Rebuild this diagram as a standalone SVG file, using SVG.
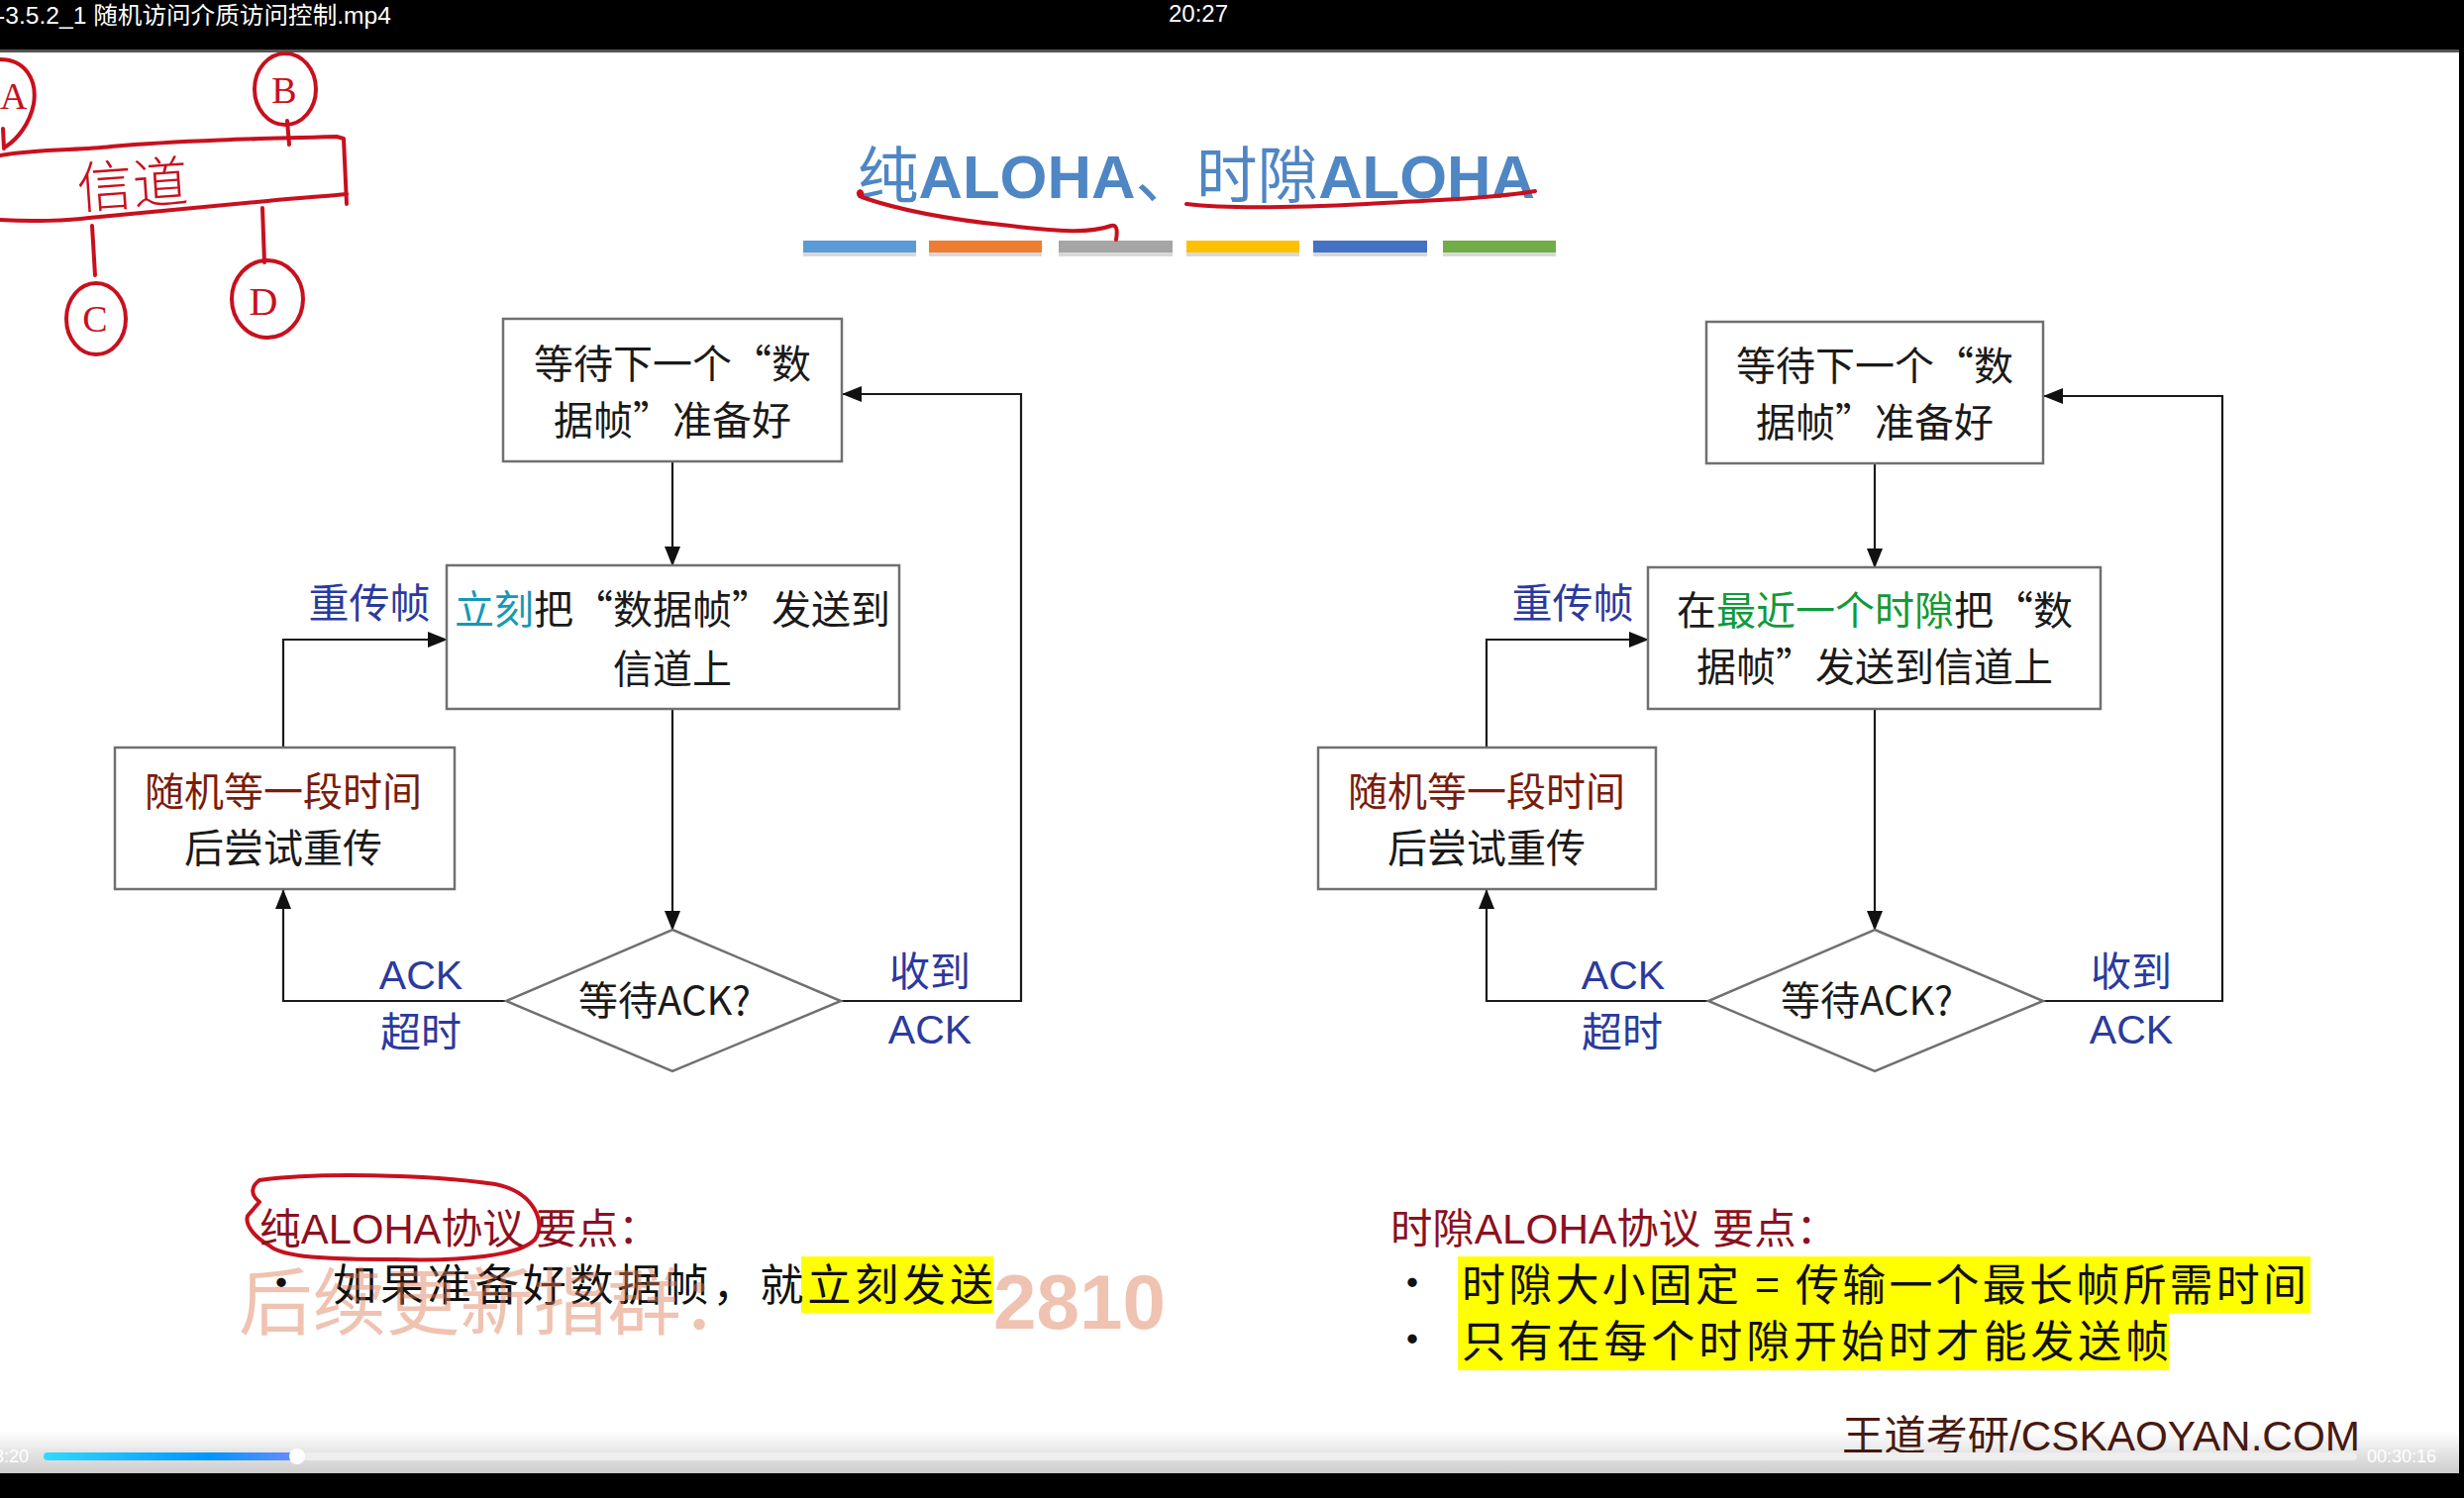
<svg xmlns="http://www.w3.org/2000/svg" width="2488" height="1513" viewBox="0 0 2488 1513">
<defs>
<style>
.box{fill:#fff;stroke:#707070;stroke-width:2.5}
.t{font-family:"Noto Sans CJK SC","Liberation Sans",sans-serif;font-size:40px;fill:#1a1a1a;text-anchor:middle}
.lbl{font-family:"Liberation Sans","Noto Sans CJK SC",sans-serif;font-size:41px;fill:#2b3a9e;text-anchor:middle}
.conn{fill:none;stroke:#1a1a1a;stroke-width:2.2}
.hand{fill:none;stroke:#c8101e;stroke-width:4;stroke-linecap:round;stroke-linejoin:round}
.htxt{font-family:"Liberation Serif","Noto Sans CJK SC",serif;fill:#c8101e}
.bt{font-family:"Noto Sans CJK SC","Liberation Sans",sans-serif;font-size:44px;fill:#111}
.hd{font-family:"Liberation Sans","Noto Sans CJK SC",sans-serif;font-size:42px;fill:#8c1020}
.red{fill:#7a1c0c}
.teal{fill:#1598b8}
.green{fill:#109a3a}
.bar{stroke:none}
</style>
<marker id="ah" markerUnits="userSpaceOnUse" markerWidth="20" markerHeight="16" refX="19" refY="8" orient="auto">
<path d="M0,0 L20,8 L0,16 z" fill="#111"/>
</marker>
<linearGradient id="prog" x1="0" x2="1" y1="0" y2="0">
<stop offset="0" stop-color="#33d8ff"/>
<stop offset="0.65" stop-color="#0096ff"/>
<stop offset="1" stop-color="#6a8cff"/>
</linearGradient>
<linearGradient id="shade" x1="0" x2="0" y1="0" y2="1">
<stop offset="0" stop-color="#000" stop-opacity="0"/>
<stop offset="1" stop-color="#000" stop-opacity="0.2"/>
</linearGradient>
</defs>

<rect x="0" y="0" width="2488" height="1513" fill="#fff"/>

<!-- top bar -->
<g id="topbar">
<rect x="0" y="0" width="2488" height="50" fill="#000"/>
<rect x="0" y="50" width="2488" height="3" fill="#555"/>
<text x="-3" y="24" font-family="Liberation Sans,Noto Sans CJK SC,sans-serif" font-size="24" fill="#fff" textLength="398" lengthAdjust="spacingAndGlyphs">-3.5.2_1 随机访问介质访问控制.mp4</text>
<text x="1210" y="22" font-family="Liberation Sans,sans-serif" font-size="24" fill="#fff" text-anchor="middle">20:27</text>
</g>
<rect x="2483" y="50" width="5" height="1463" fill="#000"/>

<!-- title -->
<g id="title">
<text x="866" y="200" font-family="Liberation Sans,Noto Sans CJK SC,sans-serif" font-size="62" fill="#4f86c4" textLength="684" lengthAdjust="spacingAndGlyphs"><tspan font-family="Noto Sans CJK SC,sans-serif">纯</tspan><tspan font-weight="bold">ALOHA</tspan><tspan font-family="Noto Sans CJK SC,sans-serif">、时隙</tspan><tspan font-weight="bold">ALOHA</tspan></text>
<g class="bar">
<rect x="811" y="246" width="114" height="13" fill="#d9d9d9"/>
<rect x="938" y="246" width="114" height="13" fill="#d9d9d9"/>
<rect x="1069" y="246" width="115" height="13" fill="#d9d9d9"/>
<rect x="1198" y="246" width="114" height="13" fill="#d9d9d9"/>
<rect x="1326" y="246" width="115" height="13" fill="#d9d9d9"/>
<rect x="1457" y="246" width="114" height="13" fill="#d9d9d9"/>
<rect x="811" y="243" width="114" height="12" fill="#5b9bd5"/>
<rect x="938" y="243" width="114" height="12" fill="#ed7d31"/>
<rect x="1069" y="243" width="115" height="12" fill="#a5a5a5"/>
<rect x="1198" y="243" width="114" height="12" fill="#ffc000"/>
<rect x="1326" y="243" width="115" height="12" fill="#4472c4"/>
<rect x="1457" y="243" width="114" height="12" fill="#70ad47"/>
</g>
</g>

<!-- handwriting annotations -->
<g id="annotations">
<path class="hand" d="M868,198 C864,193 872,190 870,199 C910,213 960,222 1020,228 C1070,234 1100,236 1122,228 C1129,226 1128,236 1127,242"/>
<path class="hand" d="M1198,206 C1240,211 1300,210 1380,206 C1450,202 1510,200 1550,193"/>
<path class="hand" d="M0,60 C25,60 38,80 34,105 C30,125 18,140 6,148"/>
<path class="hand" d="M3,130 L4,150"/>
<text class="htxt" x="0" y="110" font-size="38">A</text>
<ellipse class="hand" cx="288" cy="90" rx="31" ry="36"/>
<text class="htxt" x="287" y="104" font-size="38" text-anchor="middle">B</text>
<path class="hand" d="M290,122 L292,146"/>
<path class="hand" d="M0,157 C40,150 80,152 112,148 C180,142 260,140 340,138 L347,140 L350,206"/>
<path class="hand" d="M0,222 C30,224 70,223 90,220 C150,214 200,210 270,203 C300,200 330,198 350,196"/>
<text class="htxt" x="78" y="207" font-size="56" font-family="Noto Sans CJK SC,sans-serif" font-weight="300" fill="#c8101e" transform="rotate(-4 130 190)">信道</text>
<path class="hand" d="M93,228 L96,278"/>
<ellipse class="hand" cx="97" cy="322" rx="30" ry="36"/>
<text class="htxt" x="96" y="335" font-size="38" text-anchor="middle">C</text>
<path class="hand" d="M265,210 L267,265"/>
<ellipse class="hand" cx="270" cy="302" rx="36" ry="39"/>
<text class="htxt" x="266" y="318" font-size="40" text-anchor="middle">D</text>
<path class="hand" d="M262,1192 C320,1184 430,1186 500,1196 C540,1204 552,1236 540,1252 C524,1268 470,1274 400,1272 C330,1272 285,1270 272,1258 C258,1250 247,1238 250,1228 L262,1214 C252,1206 254,1198 262,1192"/>
</g>

<!-- connectors -->
<g id="connectors" class="conn">
<path marker-end="url(#ah)" d="M679,466 L679,571"/>
<path marker-end="url(#ah)" d="M679,716 L679,939"/>
<path marker-end="url(#ah)" d="M849,1011 L1031,1011 L1031,398 L851,398"/>
<path marker-end="url(#ah)" d="M511,1011 L286,1011 L286,899"/>
<path marker-end="url(#ah)" d="M286,755 L286,646 L451,646"/>
<path marker-end="url(#ah)" d="M1893,468 L1893,573"/>
<path marker-end="url(#ah)" d="M1893,716 L1893,939"/>
<path marker-end="url(#ah)" d="M2063,1011 L2244,1011 L2244,400 L2064,400"/>
<path marker-end="url(#ah)" d="M1725,1011 L1501,1011 L1501,899"/>
<path marker-end="url(#ah)" d="M1501,755 L1501,646 L1664,646"/>
</g>

<!-- left flowchart -->
<g id="L_wait">
<rect class="box" x="508" y="322" width="342" height="144"/>
<text class="t" x="679" y="382">等待下一个“数</text>
<text class="t" x="679" y="439">据帧”准备好</text>
</g>
<g id="L_send">
<rect class="box" x="451" y="571" width="457" height="145"/>
<text class="t" x="679" y="630"><tspan class="teal">立刻</tspan>把“数据帧”发送到</text>
<text class="t" x="679" y="690">信道上</text>
</g>
<g id="L_backoff">
<rect class="box" x="116" y="755" width="343" height="143"/>
<text class="t red" x="286" y="814">随机等一段时间</text>
<text class="t" x="286" y="871">后尝试重传</text>
</g>
<g id="L_ack">
<polygon class="box" points="679,939 849,1011 679,1082 511,1011"/>
<text class="t" x="671" y="1025">等待ACK?</text>
</g>
<g id="L_labels">
<text class="lbl" x="373" y="624">重传帧</text>
<text class="lbl" x="425" y="999">ACK</text>
<text class="lbl" x="425" y="1057">超时</text>
<text class="lbl" x="939" y="996">收到</text>
<text class="lbl" x="939" y="1054">ACK</text>
</g>

<!-- right flowchart -->
<g id="R_wait">
<rect class="box" x="1723" y="325" width="340" height="143"/>
<text class="t" x="1893" y="384">等待下一个“数</text>
<text class="t" x="1893" y="441">据帧”准备好</text>
</g>
<g id="R_send">
<rect class="box" x="1664" y="573" width="457" height="143"/>
<text class="t" x="1893" y="631">在<tspan class="green">最近一个时隙</tspan>把“数</text>
<text class="t" x="1893" y="688">据帧”发送到信道上</text>
</g>
<g id="R_backoff">
<rect class="box" x="1331" y="755" width="341" height="143"/>
<text class="t red" x="1501" y="814">随机等一段时间</text>
<text class="t" x="1501" y="871">后尝试重传</text>
</g>
<g id="R_ack">
<polygon class="box" points="1893,939 2063,1011 1893,1082 1725,1011"/>
<text class="t" x="1885" y="1025">等待ACK?</text>
</g>
<g id="R_labels">
<text class="lbl" x="1588" y="624">重传帧</text>
<text class="lbl" x="1639" y="999">ACK</text>
<text class="lbl" x="1638" y="1057">超时</text>
<text class="lbl" x="2152" y="996">收到</text>
<text class="lbl" x="2152" y="1054">ACK</text>
</g>

<!-- bottom notes -->
<g id="notes_left">
<rect x="809" y="1269" width="194" height="57" fill="#ffff00"/>
<text class="hd" x="262" y="1256" textLength="404" lengthAdjust="spacingAndGlyphs">纯ALOHA协议 要点：</text>
<text class="bt" x="262" y="1312" font-size="40">•</text>
<text class="bt" x="336" y="1314" textLength="667" lengthAdjust="spacing">如果准备好数据帧，就立刻发送</text>
</g>
<g id="watermark" opacity="0.45">
<text x="241" y="1342" font-family="Noto Sans CJK SC,sans-serif" font-size="74" fill="#e07a55" textLength="521" lengthAdjust="spacingAndGlyphs">后续更新指群：</text>
<text x="1003" y="1342" font-family="Liberation Sans,sans-serif" font-weight="bold" font-size="78" fill="#e07a55" textLength="174" lengthAdjust="spacingAndGlyphs">2810</text>
</g>
<g id="notes_right">
<rect x="1472" y="1269" width="861" height="57" fill="#ffff00"/>
<rect x="1472" y="1326" width="718" height="58" fill="#ffff00"/>
<text class="hd" x="1404" y="1256" textLength="452" lengthAdjust="spacingAndGlyphs">时隙ALOHA协议 要点：</text>
<text class="bt" x="1404" y="1312" font-size="40">•</text>
<text class="bt" x="1404" y="1369" font-size="40">•</text>
<text class="bt" x="1476" y="1314" textLength="853" lengthAdjust="spacing">时隙大小固定 = 传输一个最长帧所需时间</text>
<text class="bt" x="1476" y="1371" textLength="714" lengthAdjust="spacing">只有在每个时隙开始时才能发送帧</text>
</g>

<g id="footer">
<text x="1860" y="1465" font-family="Liberation Sans,Noto Sans CJK SC,sans-serif" font-size="42" fill="#4a1a10" textLength="523" lengthAdjust="spacingAndGlyphs">王道考研/CSKAOYAN.COM</text>
</g>

<!-- player controls -->
<g id="player">
<rect x="0" y="1445" width="2483" height="43" fill="url(#shade)"/>
<rect x="44" y="1467" width="2336" height="8" rx="4" fill="#eeeeee"/>
<rect x="44" y="1467" width="256" height="8" rx="4" fill="url(#prog)"/>
<circle cx="300" cy="1471" r="8" fill="#fff"/>
<text x="29" y="1477" font-family="Liberation Sans,sans-serif" font-size="18" fill="#fff" text-anchor="end">3:20</text>
<text x="2460" y="1477" font-family="Liberation Sans,sans-serif" font-size="18" fill="#fff" text-anchor="end">00:30:16</text>
<rect x="0" y="1488" width="2488" height="25" fill="#000"/>
</g>
</svg>
